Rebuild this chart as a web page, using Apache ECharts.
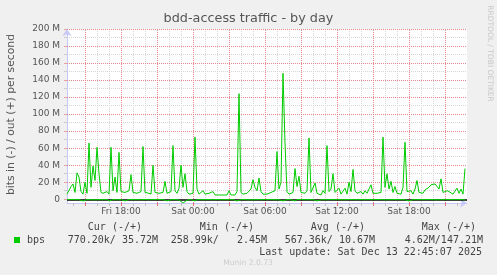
<!DOCTYPE html>
<html>
<head>
<meta charset="utf-8">
<script src="https://cdn.jsdelivr.net/npm/echarts@6/dist/echarts.min.js"></script>
<style>
html,body{margin:0;padding:0;background:#f0f0f0;}
#chart{width:497px;height:275px;}
</style>
</head>
<body>
<div id="chart"></div>
<script>
// Time axis: hours since Fri 00:00; samples every 10 minutes from Fri 13:30
const startHour = 13.5;
const endHour = 46.8333;
const stepMinutes = 10;

// bits out (+), in M
const outValues = [
  6, 5, 15, 18, 8, 31, 26, 9, 6, 20,
  7, 66, 14, 39, 22, 61, 30, 8, 7, 6,
  9, 6, 61, 10, 26, 8, 55, 9, 7, 8,
  6, 10, 29, 8, 6, 7, 6, 9, 62, 8,
  6, 7, 6, 40, 8, 6, 7, 6, 8, 21,
  7, 6, 9, 63, 10, 7, 13, 40, 14, 30,
  9, 6, 8, 7, 73, 12, 6, 7, 10, 6,
  5, 7, 6, 9, 5, 6, 5, 7, 5, 6,
  5, 10, 5, 6, 5, 9, 124, 8, 6, 5,
  7, 6, 12, 23, 14, 10, 25, 9, 6, 7,
  6, 5, 8, 6, 10, 56, 12, 20, 148, 66,
  9, 6, 5, 8, 36, 15, 27, 8, 6, 7,
  10, 72, 8, 10, 19, 7, 6, 5, 10, 7,
  63, 9, 12, 30, 8, 6, 13, 6, 8, 13,
  6, 20, 9, 35, 10, 7, 6, 9, 6, 10,
  7, 9, 17, 7, 6, 7, 5, 8, 73, 14,
  30, 12, 21, 8, 15, 7, 9, 6, 14, 67,
  9, 7, 10, 6, 12, 22, 8, 10, 7, 11,
  9, 14, 17, 15, 18, 20, 12, 24, 8, 7,
  10, 9, 7, 6, 8, 13, 7, 12, 6, 36
];

// bits in (-), in M (drawn below zero)
const inValues = [
  -0.4,-0.5,-0.3,-0.6,-0.4,-0.5,-0.4,-0.3,-2.0,-0.5,
  -0.4,-2.1,-0.5,-0.4,-0.6,-1.9,-0.4,-0.3,-0.5,-0.4,
  -0.3,-2.0,-0.5,-0.4,-0.4,-0.6,-0.3,-0.4,-0.5,-1.9,
  -0.4,-0.3,-0.5,-0.4,-0.6,-0.4,-2.0,-0.5,-0.4,-0.3,
  -0.4,-0.5,-0.4,-0.6,-0.3,-2.1,-0.4,-0.5,-0.4,-0.3,
  -1.9,-0.4,-0.5,-2.0,-0.4,-0.6,-0.8,-1.6,-4.6,-3.4,
  -1.0,-0.5,-0.4,-0.3,-2.0,-0.5,-0.4,-0.4,-0.3,-0.5,
  -0.4,-0.3,-0.4,-0.5,-0.4,-0.3,-0.4,-0.5,-0.3,-0.4,
  -0.4,-0.5,-0.3,-0.4,-0.6,-2.0,-0.5,-0.4,-0.3,-0.4,
  -0.5,-0.4,-0.6,-0.4,-0.5,-0.3,-0.4,-0.6,-0.4,-0.3,
  -0.4,-0.5,-0.3,-0.4,-0.5,-2.0,-0.6,-0.4,-1.9,-0.5,
  -0.4,-0.3,-0.5,-0.4,-2.0,-0.4,-0.5,-0.3,-0.4,-0.5,
  -2.1,-0.4,-0.3,-0.5,-0.4,-1.9,-0.4,-0.5,-0.3,-0.4,
  -0.6,-0.4,-0.3,-0.5,-0.4,-2.0,-0.4,-0.3,-0.5,-0.4,
  -0.4,-0.5,-0.3,-0.6,-0.4,-0.5,-0.4,-0.3,-0.4,-0.5,
  -0.4,-0.3,-0.5,-0.4,-0.6,-0.4,-0.5,-0.3,-2.0,-0.6,
  -0.4,-0.5,-0.4,-0.3,-0.5,-0.4,-0.6,-0.4,-0.3,-0.5,
  -0.4,-2.0,-0.5,-0.4,-0.3,-0.5,-0.4,-0.6,-0.4,-0.3,
  -0.4,-0.5,-0.3,-0.4,-0.6,-0.4,-0.5,-0.3,-0.4,-0.5,
  -0.4,-0.3,-0.5,-0.4,-0.6,-0.4,-0.5,-0.3,-0.4,-0.8
];

const xTickHours = [18, 24, 30, 36, 42];
const xTickLabels = ['Fri 18:00', 'Sat 00:00', 'Sat 06:00', 'Sat 12:00', 'Sat 18:00'];
const xMinorHours = [14,16,17,19,20,22,23,25,26,28,29,31,32,34,35,37,38,40,41,43,44,46];
const xMajorHours = [15,18,21,24,27,30,33,36,39,42,45];
const yTickValues = [0,20,40,60,80,100,120,140,160,180,200];
const yMajorGrid = [20,40,60,80,100,120,140,160,180,200];
const yMinorValues = [10,30,50,70,90,110,130,150,170,190];

const legendHeaders = ['Cur (-/+)', 'Min (-/+)', 'Avg (-/+)', 'Max (-/+)'];
const legendValues = ['770.20k/ 35.72M', '258.99k/   2.45M', '567.36k/ 10.67M', '4.62M/147.21M'];
const seriesName = 'bps';
const titleText = 'bdd-access traffic - by day';
const yAxisName = 'bits in (-) / out (+) per second';
const lastUpdate = 'Last update: Sat Dec 13 22:45:07 2025';
const footer = 'Munin 2.0.73';
const sideText = 'RRDTOOL / TOBI OETIKER';

const toPoints = arr => arr.map((v, i) => [startHour + i * stepMinutes / 60, v]);

const RED = '#e58a8a';
const GREY = '#d6d6d6';
const mono = '"DejaVu Sans Mono", monospace';
const sans = '"DejaVu Sans", sans-serif';

const chart = echarts.init(document.getElementById('chart'), null, {renderer: 'canvas'});

const headerRight = [142, 254, 365, 476];
const valueRight = [158, 267, 375, 483];

const graphics = [
  {type:'text', x:248.5, y:19, style:{text:titleText, font:'12.8px ' + sans, fill:'#555', align:'center', verticalAlign:'middle'}},
  {type:'text', x:11, y:114.5, rotation:Math.PI/2, style:{text:yAxisName, font:'10.8px ' + sans, fill:'#555', align:'center', verticalAlign:'middle'}},
  {type:'text', x:490, y:53.5, rotation:-Math.PI/2, style:{text:sideText, font:'7.5px ' + sans, fill:'#c8c8c8', align:'center', verticalAlign:'middle'}},
  {type:'rect', shape:{x:14, y:237, width:6, height:6}, style:{fill:'#00cc00'}},
  {type:'text', x:27, y:240, style:{text:seriesName, font:'10px ' + mono, fill:'#444', align:'left', verticalAlign:'middle'}},
  {type:'text', x:482, y:252, style:{text:lastUpdate, font:'10px ' + mono, fill:'#444', align:'right', verticalAlign:'middle'}},
  {type:'text', x:248, y:263.5, style:{text:footer, font:'7.6px ' + sans, fill:'#cccccc', align:'center', verticalAlign:'middle'}}
];
legendHeaders.forEach((t, i) => graphics.push({type:'text', x:headerRight[i], y:227.5, style:{text:t, font:'10px ' + mono, fill:'#444', align:'right', verticalAlign:'middle'}}));
legendValues.forEach((t, i) => graphics.push({type:'text', x:valueRight[i], y:240, style:{text:t, font:'10px ' + mono, fill:'#444', align:'right', verticalAlign:'middle'}}));

const majorGridLines = xMajorHours.map(h => ({xAxis:h})).concat(yMajorGrid.map(v => ({yAxis:v})));

chart.setOption({
  animation: false,
  backgroundColor: '#f0f0f0',
  grid: {left:67, right:30, top:29, bottom:72, show:true, backgroundColor:'#ffffff', borderWidth:0, containLabel:false},
  xAxis: [{
    type:'value', min:startHour, max:endHour, position:'bottom',
    axisLine:{show:false, onZero:false},
    axisTick:{show:true, customValues:xMinorHours, length:3, lineStyle:{color:'#c0c0c0'}},
    axisLabel:{show:false},
    splitLine:{show:true, showMinLine:false, showMaxLine:false, lineStyle:{color:GREY, type:[1,1], width:1}}
  }, {
    type:'value', min:startHour, max:endHour, position:'bottom',
    axisLine:{show:true, onZero:false, lineStyle:{color:'#c8c8f8', width:1}, symbol:['none','arrow'], symbolSize:[7,7]},
    axisTick:{show:true, customValues:xMajorHours, length:3, lineStyle:{color:'#e07070'}},
    axisLabel:{show:true, customValues:xTickHours, formatter:v => xTickLabels[xTickHours.indexOf(Math.round(v))] || '', fontFamily:'DejaVu Sans', fontSize:9, color:'#555', margin:4},
    splitLine:{show:false}
  }],
  yAxis: [{
    type:'value', min:-4.4, max:200, position:'left',
    axisLine:{show:false, onZero:false},
    axisTick:{show:true, customValues:yMinorValues, length:3, lineStyle:{color:'#cccccc'}},
    axisLabel:{show:false},
    splitLine:{show:true, lineStyle:{color:GREY, type:[1,1], width:1}}
  }, {
    type:'value', min:-4.4, max:200, position:'left',
    axisLine:{show:true, onZero:false, lineStyle:{color:'#c8c8f8', width:1}, symbol:['none','arrow'], symbolSize:[7,7]},
    axisTick:{show:true, customValues:yTickValues, length:3, lineStyle:{color:'#e8a0a0'}},
    axisLabel:{show:true, customValues:yTickValues, formatter:v => v === 0 ? '0' : Math.round(v) + ' M', fontFamily:'DejaVu Sans', fontSize:9, color:'#555', margin:7},
    splitLine:{show:false}
  }],
  series: [{
    name:'out', type:'line', xAxisIndex:0, yAxisIndex:0, data:toPoints(outValues), showSymbol:false, symbol:'none',
    lineStyle:{color:'#00cc00', width:1}, itemStyle:{color:'#00cc00'}, z:5,
    markLine:{silent:true, symbol:'none', label:{show:false}, z:1, lineStyle:{color:RED, width:1, type:[1,1]}, data:majorGridLines}
  }, {
    name:'in', type:'line', xAxisIndex:0, yAxisIndex:0, data:toPoints(inValues), showSymbol:false, symbol:'none',
    lineStyle:{color:'#00cc00', width:1}, itemStyle:{color:'#00cc00'}, z:5,
    markLine:{silent:true, symbol:'none', label:{show:false}, lineStyle:{color:'#000000', width:1.5, type:'solid'}, data:[{yAxis:0}]}
  }],
  graphic: graphics
});
</script>
</body>
</html>
